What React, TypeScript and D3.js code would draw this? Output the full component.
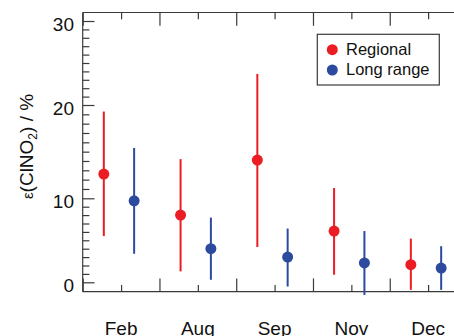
import * as d3 from "d3";
import { useEffect, useRef } from "react";

const months = ["Feb", "Aug", "Sep", "Nov", "Dec"];
const regionalMean = [12.6, 8.0, 14.1, 6.1, 2.1];
const regionalLow = [5.5, 1.3, 4.2, 0.9, -0.9];
const regionalHigh = [19.3, 14.2, 23.7, 11.1, 5.2];
const longMean = [9.7, 4.0, 3.0, 2.3, 1.7];
const longLow = [3.4, 0.3, -0.5, -1.5, -0.9];
const longHigh = [15.4, 7.7, 6.4, 6.1, 4.3];
const yMajor = [0, 10, 20, 30];
const seriesNames = ["Regional", "Long range"];

const App = () => {
  const svgRef = useRef<SVGSVGElement>(null);
  const red = "#ec1c24";
  const blue = "#2c4a9e";
  const axisColor = "#3a3a3a";
  const font = "'Liberation Sans', Arial, Helvetica, sans-serif";

  const renderSVG = () => {
    const dims = { width: 454, height: 336, left: 82.7, top: 12.5, bottom: 291.7 };

    // x: one unit per month
    const x = d3.scaleLinear([0, 5], [dims.left, 466.5]);
    // y axis of the original is slightly uneven, piecewise keeps tick positions
    const y = d3.scaleLinear(yMajor, [282.3, 198.3, 105, 21]);

    const svg = d3.select(svgRef.current);
    svg.selectAll("*").remove();
    svg.attr("width", dims.width).attr("height", dims.height);

    const series = [
      { name: seriesNames[0], color: red, off: 0.275, mean: regionalMean, lo: regionalLow, hi: regionalHigh },
      { name: seriesNames[1], color: blue, off: 0.67, mean: longMean, lo: longLow, hi: longHigh },
    ];

    // frame lines
    const frame = svg.append("g").attr("stroke", axisColor).attr("stroke-width", 1.2);
    frame.append("line").attr("x1", dims.left).attr("x2", dims.left).attr("y1", dims.top).attr("y2", dims.bottom);
    frame.append("line").attr("x1", dims.left).attr("x2", dims.width).attr("y1", dims.top).attr("y2", dims.top);
    frame.append("line").attr("x1", dims.left).attr("x2", dims.width).attr("y1", dims.bottom).attr("y2", dims.bottom);

    const styleAxis = (g) => {
      g.select("path.domain").remove();
      g.selectAll(".tick line").attr("stroke", axisColor).attr("stroke-width", 1.2);
    };

    // y ticks
    svg.append("g")
      .attr("transform", `translate(${dims.left},0)`)
      .call(d3.axisLeft(y).tickValues(d3.range(0, 31).filter((v) => v % 10 !== 0)).tickSize(-6.7).tickFormat(() => ""))
      .call(styleAxis);
    svg.append("g")
      .attr("transform", `translate(${dims.left},0)`)
      .call(d3.axisLeft(y).tickValues(yMajor).tickSize(-11.8).tickPadding(8.7).tickFormat(d3.format("d")))
      .call(styleAxis)
      .call((g) =>
        g.selectAll(".tick text")
          .attr("font-size", 19)
          .attr("font-family", font)
          .attr("fill", "#111")
          .attr("dy", "0.5em")
      );

    // x ticks, bottom (pointing up) and top (pointing down)
    const xMajorTicks = d3.range(0, 6);
    const xMinorTicks = d3.range(0.5, 6, 1);
    [
      { pos: dims.bottom, axis: d3.axisBottom },
      { pos: dims.top, axis: d3.axisTop },
    ].forEach(({ pos, axis }) => {
      svg.append("g")
        .attr("transform", `translate(0,${pos})`)
        .call(axis(x).tickValues(xMajorTicks).tickSize(-13.3).tickFormat(() => ""))
        .call(styleAxis);
      svg.append("g")
        .attr("transform", `translate(0,${pos})`)
        .call(axis(x).tickValues(xMinorTicks).tickSize(-6.8).tickFormat(() => ""))
        .call(styleAxis);
    });

    // month labels
    svg.append("g")
      .selectAll("text")
      .data(months)
      .enter()
      .append("text")
      .attr("x", (d, i) => x(i + 0.5))
      .attr("y", 335.3)
      .attr("text-anchor", "middle")
      .attr("font-size", 19)
      .attr("font-family", font)
      .attr("fill", "#111")
      .text((d) => d);

    // error bars + points
    series.forEach((s) => {
      const g = svg.append("g");
      g.selectAll("line")
        .data(months)
        .enter()
        .append("line")
        .attr("x1", (d, i) => x(i + s.off))
        .attr("x2", (d, i) => x(i + s.off))
        .attr("y1", (d, i) => y(s.lo[i]))
        .attr("y2", (d, i) => y(s.hi[i]))
        .attr("stroke", s.color)
        .attr("stroke-width", 2);
      g.selectAll("circle")
        .data(months)
        .enter()
        .append("circle")
        .attr("cx", (d, i) => x(i + s.off))
        .attr("cy", (d, i) => y(s.mean[i]))
        .attr("r", 5.5)
        .attr("fill", s.color);
    });

    // y label
    const yl = svg.append("text")
      .attr("transform", "translate(33,146.5) rotate(-90)")
      .attr("text-anchor", "middle")
      .attr("font-size", 19)
      .attr("font-family", font)
      .attr("fill", "#111");
    yl.append("tspan").attr("font-size", 15).text("ε");
    yl.append("tspan").text("(ClNO");
    yl.append("tspan").attr("font-size", 12).attr("dy", 4).text("2");
    yl.append("tspan").attr("dy", -4).text(") / %");

    // legend
    const lg = svg.append("g");
    lg.append("rect")
      .attr("x", 317.3)
      .attr("y", 34.3)
      .attr("width", 122)
      .attr("height", 50.7)
      .attr("fill", "white")
      .attr("stroke", axisColor)
      .attr("stroke-width", 1.2);
    series.forEach((s, i) => {
      lg.append("circle").attr("cx", 332.3).attr("cy", 49.7 + i * 20.3).attr("r", 5.5).attr("fill", s.color);
      lg.append("text")
        .attr("x", 346)
        .attr("y", 55 + i * 20.3)
        .attr("font-size", 16.5)
        .attr("font-family", font)
        .attr("fill", "#111")
        .text(s.name);
    });
  };

  useEffect(() => {
    renderSVG();
  });

  return (
    <svg
      ref={svgRef}
      style={{ position: "absolute", left: 0, top: 0, display: "block", overflow: "hidden", background: "white" }}
    />
  );
};

export default App;
